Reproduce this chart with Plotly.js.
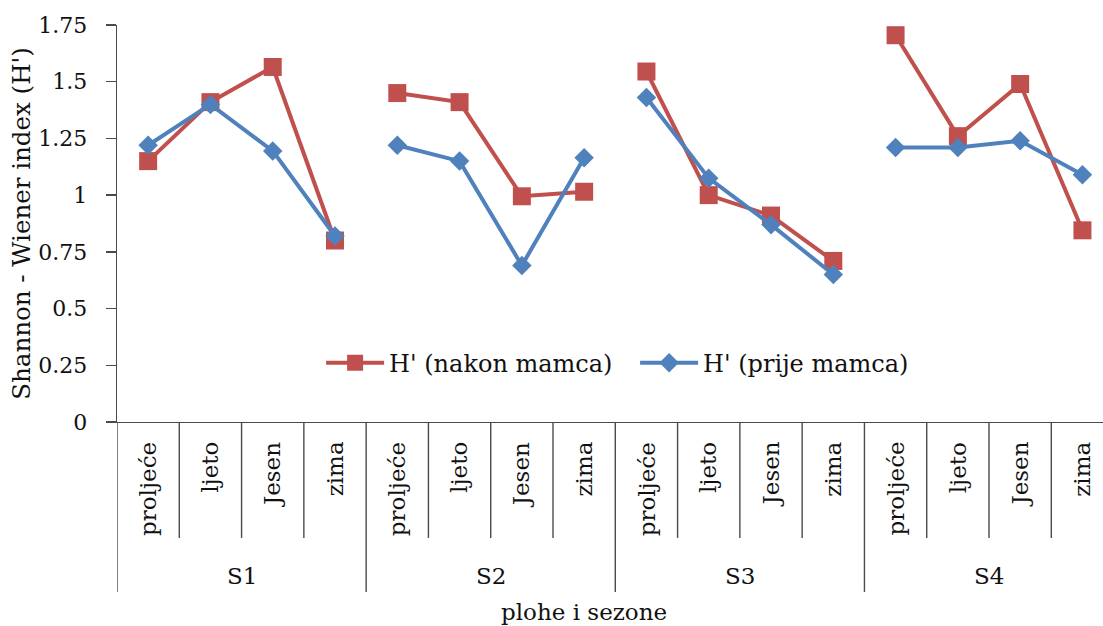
<!DOCTYPE html>
<html>
<head>
<meta charset="utf-8">
<script src="https://cdn.plot.ly/plotly-3.0.1.min.js"></script>
<style>
html,body{margin:0;padding:0;background:#fff;}
#chart{width:1103px;height:626px;}
</style>
</head>
<body>
<div id="chart"></div>
<script>
// ---- data ----
const sites = ['S1', 'S2', 'S3', 'S4'];
const seasons = ['proljeće', 'ljeto', 'Jesen', 'zima'];
const nakonMamca = [1.15, 1.41, 1.565, 0.80, 1.45, 1.41, 0.995, 1.015, 1.545, 1.0, 0.91, 0.71, 1.705, 1.26, 1.49, 0.845];
const prijeMamca = [1.22, 1.40, 1.195, 0.82, 1.22, 1.15, 0.69, 1.165, 1.43, 1.075, 0.87, 0.65, 1.21, 1.21, 1.24, 1.09];
const seriesNames = ["H' (nakon mamca)", "H' (prije mamca)"];
const yTicks = [0, 0.25, 0.5, 0.75, 1, 1.25, 1.5, 1.75];
const yTickText = ['0', '0.25', '0.5', '0.75', '1', '1.25', '1.5', '1.75'];

const FONT = 'DejaVu Serif, serif';
const RED = '#C0504D';
const BLUE = '#4F81BD';
const AX = '#4a4a4a';
const TXT = '#111';

// build per-site segments separated by gaps (lines not joined across sites)
function segmented(values) {
  const xs = [], ys = [];
  sites.forEach((s, i) => {
    seasons.forEach((se, j) => {
      const k = i * seasons.length + j;
      xs.push(k); ys.push(values[k]);
    });
    if (i < sites.length - 1) { xs.push(null); ys.push(null); }
  });
  return {xs, ys};
}
const a = segmented(nakonMamca);
const b = segmented(prijeMamca);

const traces = [
  {
    x: a.xs, y: a.ys, name: seriesNames[0], type: 'scatter', mode: 'lines+markers',
    connectgaps: false,
    line: {color: RED, width: 4},
    marker: {symbol: 'square', size: 18, color: RED}
  },
  {
    x: b.xs, y: b.ys, name: seriesNames[1], type: 'scatter', mode: 'lines+markers',
    connectgaps: false,
    line: {color: BLUE, width: 4},
    marker: {symbol: 'diamond', size: 15, color: BLUE}
  }
];

const n = sites.length * seasons.length;
const shapes = [];
const annotations = [];
for (let k = 0; k <= n; k++) {
  const isGroup = (k % seasons.length === 0);
  shapes.push({
    type: 'line', xref: 'x', yref: 'paper',
    x0: k - 0.5, x1: k - 0.5, y0: 0, y1: isGroup ? -0.428 : -0.292,
    line: {color: AX, width: 1.4}
  });
}
for (let k = 0; k < n; k++) {
  annotations.push({
    xref: 'x', yref: 'paper', x: k, y: -0.045,
    text: seasons[k % seasons.length], textangle: -90,
    showarrow: false, xanchor: 'center', yanchor: 'top',
    font: {family: FONT, size: 23, color: TXT}
  });
}
sites.forEach((s, i) => {
  annotations.push({
    xref: 'x', yref: 'paper', x: i * seasons.length + (seasons.length - 1) / 2, y: -0.387,
    text: s, showarrow: false, xanchor: 'center', yanchor: 'middle',
    font: {family: FONT, size: 23, color: TXT}
  });
});
annotations.push({
  xref: 'paper', yref: 'paper', x: 0.474, y: -0.478,
  text: 'plohe i sezone', showarrow: false, xanchor: 'center', yanchor: 'middle',
  font: {family: FONT, size: 23, color: TXT}
});

const layout = {
  width: 1103, height: 626,
  margin: {l: 117, r: 0, t: 24.5, b: 203.5},
  paper_bgcolor: '#fff', plot_bgcolor: '#fff',
  font: {family: FONT, size: 22, color: TXT},
  showlegend: true,
  legend: {
    orientation: 'h', x: 0.207, xanchor: 'left', y: 0.148, yanchor: 'middle',
    itemwidth: 58, entrywidth: 241,
    bgcolor: 'rgba(0,0,0,0)', font: {family: FONT, size: 24, color: TXT}
  },
  xaxis: {
    range: [-0.5, 15.33], showgrid: false, zeroline: false,
    showline: true, linecolor: AX, linewidth: 1.4,
    showticklabels: false, ticks: '', fixedrange: true
  },
  yaxis: {
    range: [0, 1.75], tickvals: yTicks, ticktext: yTickText,
    showgrid: false, zeroline: false, showline: true, linecolor: AX, linewidth: 1.4,
    ticks: 'outside', ticklen: 10, tickcolor: AX, tickwidth: 1.4,
    ticklabelstandoff: 14,
    tickfont: {family: FONT, size: 22, color: TXT},
    title: {text: "Shannon - Wiener index (H')", font: {family: FONT, size: 24.5, color: TXT}, standoff: 0}
  },
  shapes: shapes,
  annotations: annotations
};

Plotly.newPlot('chart', traces, layout, {displayModeBar: false, staticPlot: true});
</script>
</body>
</html>
